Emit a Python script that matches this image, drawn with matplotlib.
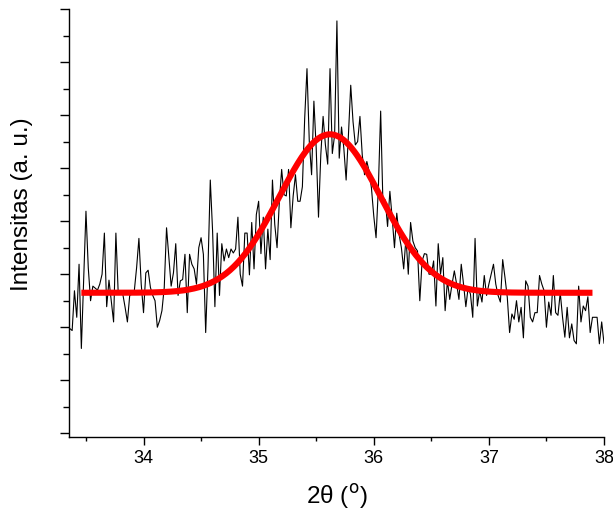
import matplotlib
matplotlib.use("Agg")
import matplotlib.pyplot as plt
import numpy as np
from matplotlib.ticker import MultipleLocator, NullFormatter

# measured scan, 0.02 deg steps
two_theta_start = 33.36
two_theta_end = 38.00
intensity = [
    158, 155, 215, 175, 255, 128, 230, 335, 250, 200,
    222, 219, 216, 225, 240, 302, 191, 231, 200, 168,
    302, 212, 215, 210, 190, 168, 208, 210, 215, 250,
    294, 225, 182, 242, 246, 220, 208, 200, 160, 170,
    185, 220, 310, 265, 222, 242, 286, 208, 230, 232,
    270, 182, 270, 255, 248, 225, 280, 295, 270, 152,
    250, 382, 305, 191, 302, 208, 286, 260, 278, 265,
    278, 272, 278, 326, 240, 222, 302, 302, 239, 318,
    248, 330, 350, 271, 326, 248, 308, 262, 382, 315,
    280, 350, 398, 360, 358, 398, 310, 358, 390, 350,
    350, 372, 475, 550, 440, 390, 501, 430, 326, 420,
    478, 435, 406, 550, 422, 450, 622, 415, 462, 430,
    382, 450, 525, 470, 435, 440, 478, 420, 390, 410,
    395, 370, 328, 295, 370, 486, 345, 352, 312, 365,
    325, 280, 332, 300, 280, 248, 295, 240, 318, 290,
    280, 275, 200, 260, 271, 270, 240, 240, 260, 192,
    286, 240, 265, 185, 230, 202, 225, 245, 225, 202,
    255, 225, 191, 220, 210, 175, 294, 192, 215, 198,
    238, 208, 225, 240, 255, 225, 208, 198, 262, 235,
    205, 152, 180, 172, 200, 168, 190, 144, 230, 222,
    175, 168, 182, 182, 238, 225, 215, 160, 198, 178,
    238, 182, 178, 212, 175, 145, 190, 144, 165, 140,
    135, 222, 168, 192, 185, 206, 152, 175, 175, 175,
    135, 168, 136,
]

# gaussian fit of the peak
fit_center = 35.62
fit_sigma = 0.44
fit_height = 239
fit_base = 212
fit_start = 33.46
fit_end = 37.90

two_theta = np.linspace(two_theta_start, two_theta_end, len(intensity))
x_fit = np.linspace(fit_start, fit_end, 400)
y_fit = fit_base + fit_height * np.exp(-((x_fit - fit_center) ** 2) / (2 * fit_sigma ** 2))

plt.rcParams["font.family"] = ["Liberation Sans", "DejaVu Sans"]

fig = plt.figure(figsize=(6.13, 5.11), dpi=100)
ax = fig.add_axes([0.113, 0.1454, 0.8723, 0.837])

ax.plot(two_theta, intensity, color="black", lw=0.8)
ax.plot(x_fit, y_fit, color="#ff0000", lw=4.4, solid_capstyle="butt")

ax.set_xlim(33.355, 38.0)
ax.set_ylim(-5.1, 640)

ax.spines["top"].set_visible(False)
ax.spines["right"].set_visible(False)
for s in ["left", "bottom"]:
    ax.spines[s].set_linewidth(1.0)

ax.xaxis.set_major_locator(MultipleLocator(1))
ax.xaxis.set_minor_locator(MultipleLocator(0.5))
ax.yaxis.set_major_locator(MultipleLocator(80))
ax.yaxis.set_minor_locator(MultipleLocator(40))
ax.yaxis.set_major_formatter(NullFormatter())

ax.tick_params(axis="x", which="major", direction="out", length=5.5, width=1.0,
               labelsize=13, pad=4)
ax.tick_params(axis="x", which="minor", direction="out", length=2.8, width=1.0)
ax.tick_params(axis="y", which="major", direction="out", length=6.5, width=1.0)
ax.tick_params(axis="y", which="minor", direction="out", length=4.5, width=1.0)

ax.set_xlabel("2θ ($^{\\rm o}$)", fontsize=17.5)
ax.set_ylabel("Intensitas (a. u.)", fontsize=17.5)
ax.xaxis.set_label_coords(0.5, -0.14)
ax.yaxis.set_label_coords(-0.0885, 0.544)
ax.yaxis.label.set_va("center")
ax.xaxis.label.set_va("center")

fig.savefig("out.png", dpi=100)
